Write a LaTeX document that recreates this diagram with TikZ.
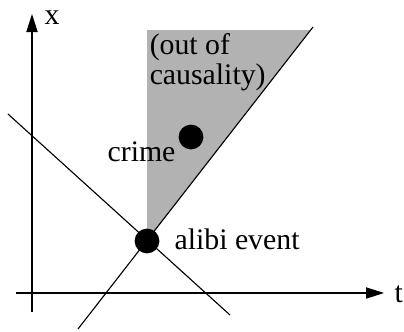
\documentclass[tikz,border=0pt]{standalone}
\usepackage{fontspec}
\setmainfont{Liberation Serif}
\usepackage{tikz}
\usetikzlibrary{arrows.meta}

\begin{document}
\begin{tikzpicture}[line width=0.8pt, font=\fontsize{21.2}{21.5}\selectfont,
    axis/.style={-{Triangle[length=0.45cm,width=0.28cm]}},
    event/.style={circle, fill=black, inner sep=0pt, minimum size=0.62cm},
    lbl/.style={inner sep=0pt}]
        \useasboundingbox (-0.8,-0.95) rectangle (9.3,7.325);
        % Coordinates
        \coordinate (xlo) at (-0.4, 0);
        \coordinate (xhi) at (8.8, 0);
        \coordinate (ylo) at (0, -0.475);
        \coordinate (yhi) at (0, 6.975);
        \coordinate (fwdlo) at (1.15, -0.9);
        \coordinate (fwdhi) at (7.025, 6.65);
        \coordinate (bwdhi) at (-0.6, 4.475);
        \coordinate (bwdlo) at (4.95, -0.55);
        \coordinate (shtop) at (2.875, 6.575);
        \coordinate (shedge) at (6.97, 6.575);

        % Shaded region
        \fill[black!30] (2.875, 1.3) -- (shtop) -- (shedge) -- cycle;

        % Axes
        \draw[axis] (xlo) -- (xhi);
        \draw[axis] (ylo) -- (yhi);
        \node[lbl, anchor=base west] (tlabel) at (9.05, -0.225) {t};
        \node[lbl, anchor=base west] (xlabel) at (0.3, 6.725) {x};

        % Light cone
        \draw (fwdlo) -- (fwdhi);
        \draw (bwdhi) -- (bwdlo);

        % Events
        \node[event] (alibi) at (2.875, 1.3) {};
        \node[event] (crime) at (3.975, 3.9) {};

        % Labels
        \node[lbl, anchor=base west] (alibilabel) at (3.55, 1.1) {alibi event};
        \node[lbl, anchor=base east] (crimelabel) at (3.6, 3.3) {crime};
        \node[lbl, anchor=north west, align=left] (outlabel) at (2.93, 6.5) {(out of\\causality)};
    \end{tikzpicture}
\end{document}
